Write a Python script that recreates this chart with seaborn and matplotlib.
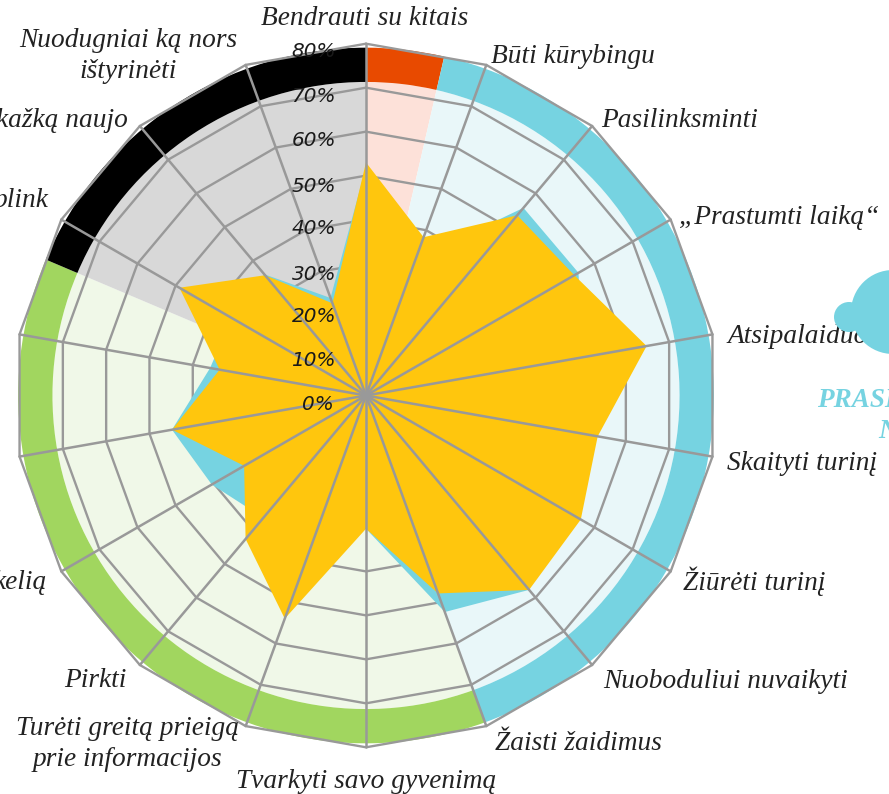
import numpy as np
import pandas as pd
import seaborn as sns
import matplotlib
matplotlib.use("Agg")
import matplotlib.pyplot as plt
from matplotlib.patches import Circle
from matplotlib.transforms import IdentityTransform

# ---- data ----
spoke_deg = [0, 20, 40, 60, 80, 100, 120, 140, 160, 180, 200, 220, 240, 260, 280, 300, 320, 340]
series_main = [53, 38.3, 53.5, 54.7, 64.8, 53.5, 56.4, 57.7, 47.9, 30.3, 54, 42.6, 32, 44.8, 33.8, 49, 35.7, 22.3]
series_back = [52, 33, 55.7, 55.8, 50, 50, 52, 57.7, 52.4, 30.3, 40, 36.3, 40.5, 44.8, 36, 35.3, 36, 23.6]
levels = [10, 20, 30, 40, 50, 60, 70, 80]
level_labels = ["10%", "20%", "30%", "40%", "50%", "60%", "70%", "80%"]
zero_label = "0%"
group_start = [0, 13, 160, 293]
group_span = [13, 147, 133, 67]
ring_colors = ["#E84A00", "#76D3E1", "#A1D65F", "#000000"]
disc_colors = ["#FDE1D9", "#E9F7F9", "#F0F8E8", "#D8D8D8"]
categories = [
    ("Bendrauti su kitais", 365, 25, "center"),
    ("Būti kūrybingu", 573, 63, "center"),
    ("Pasilinksminti", 680, 127, "center"),
    ("„Prastumti laiką“", 779, 224, "center"),
    ("Atsipalaiduoti", 727, 343, "left"),
    ("Skaityti turinį", 727, 470, "left"),
    ("Žiūrėti turinį", 754, 590, "center"),
    ("Nuoboduliui nuvaikyti", 726, 688, "center"),
    ("Žaisti žaidimus", 578, 750, "center"),
    ("Tvarkyti savo gyvenimą", 366, 788, "center"),
    ("Turėti greitą prieigą", 128, 735, "center"),
    ("prie informacijos", 127, 766, "center"),
    ("Pirkti", 95, 687, "center"),
    ("kelią", 46, 589, "right"),
    ("plink", 48, 207, "right"),
    ("kažką naujo", 128, 127, "right"),
    ("Nuodugniai ką nors", 128, 47, "center"),
    ("ištyrinėti", 128, 78, "center"),
]

# ---- layout ----
W, H = 889, 794
CX, CY, R = 366, 395.5, 351.8
GRID = "#999999"
RING_IN, RING_OUT = 71.3, 79.1

sns.set_theme(style="white")
plt.rcParams["font.family"] = ["Liberation Serif", "DejaVu Sans"]

fig = plt.figure(figsize=(W / 100, H / 100), dpi=100, facecolor="white")
ax = fig.add_axes([(CX - R) / W, (H - CY - R) / H, 2 * R / W, 2 * R / H], projection="polar")
ax.set_theta_zero_location("N")
ax.set_theta_direction(-1)

theta = np.deg2rad(spoke_deg)
theta_closed = np.append(theta, theta[0] + 2 * np.pi)

# pale sectors and coloured outer band
for start, span, rc, dc in zip(group_start, group_span, ring_colors, disc_colors):
    mid, wid = np.deg2rad(start + span / 2), np.deg2rad(span)
    ax.bar(mid, RING_IN, width=wid, bottom=0, color=dc, linewidth=0, zorder=1)
    ax.bar(mid, RING_OUT - RING_IN, width=wid, bottom=RING_IN, color=rc, linewidth=0, zorder=1.5)

# polygon grid
rings = pd.DataFrame(
    [(t, lv, lv) for lv in levels for t in theta_closed], columns=["theta", "value", "level"]
)
sns.lineplot(data=rings, x="theta", y="value", units="level", estimator=None, sort=False,
             color=GRID, linewidth=1.7, legend=False, ax=ax, zorder=2, clip_on=False)

# series
ax.fill(theta_closed, np.append(series_back, series_back[0]), color="#76D3E1", linewidth=0, zorder=3)
ax.fill(theta_closed, np.append(series_main, series_main[0]), color="#FFC60D", linewidth=0, zorder=4)

# spokes
spokes = pd.DataFrame(
    [(t, v, i) for i, t in enumerate(theta) for v in (0, levels[-1])], columns=["theta", "value", "spoke"]
)
sns.lineplot(data=spokes, x="theta", y="value", units="spoke", estimator=None, sort=False,
             color=GRID, linewidth=1.8, legend=False, ax=ax, zorder=5, clip_on=False)

ax.set_ylim(0, levels[-1])
ax.set_xlabel("")
ax.set_ylabel("")
ax.set_axis_off()

# category labels
for text, x, y, ha in categories:
    fig.text(x / W, 1 - y / H, text, ha=ha, va="baseline", style="italic",
             fontsize=19.7, color="#222222", zorder=3)

# radial value labels
label_y = [366, 322, 280, 234, 192, 146, 102, 57]
for txt, y in zip(level_labels, label_y):
    fig.text(336 / W, 1 - y / H, txt, ha="right", va="baseline", family="DejaVu Sans",
             style="oblique", fontsize=14.4, color="#1a1a1a", zorder=6)
fig.text(334 / W, 1 - 410 / H, zero_label, ha="right", va="baseline", family="DejaVu Sans",
         style="oblique", fontsize=14.4, color="#1a1a1a", zorder=6)

# cloud and cropped caption on the right
for cx, cy, r in [(893, 312, 42), (849, 317, 15)]:
    fig.add_artist(Circle((cx, H - cy), r, transform=IdentityTransform(), color="#76D3E1",
                          linewidth=0, zorder=5))
fig.text(817 / W, 1 - 407 / H, "PRASI", ha="left", va="baseline", style="italic", weight="bold",
         fontsize=19.5, color="#76D3E1", zorder=3)
fig.text(878 / W, 1 - 438 / H, "N", ha="left", va="baseline", style="italic", weight="bold",
         fontsize=19.5, color="#76D3E1", zorder=3)

fig.savefig("out.png", dpi=100, facecolor="white")
